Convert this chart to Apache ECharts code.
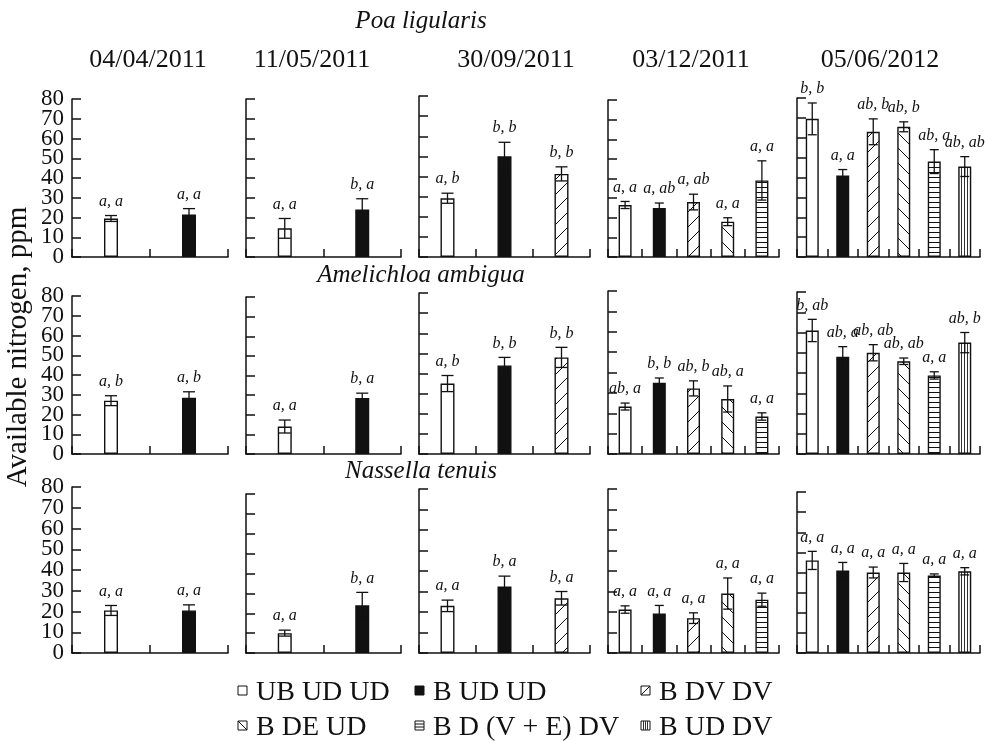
<!DOCTYPE html>
<html><head><meta charset="utf-8">
<script src="https://cdn.jsdelivr.net/npm/echarts@6/dist/echarts.min.js"></script>
<style>html,body{margin:0;padding:0;background:#fff}#c{width:985px;height:741px}</style>
</head><body><div id="c"></div>
<script>
// ---------------- DATA ----------------
const dates = ['04/04/2011', '11/05/2011', '30/09/2011', '03/12/2011', '05/06/2012'];
const species = ['Poa ligularis', 'Amelichloa ambigua', 'Nassella tenuis'];
const yAxisTitle = 'Available nitrogen, ppm';
const treatments = ['UB UD UD', 'B UD UD', 'B DV DV', 'B DE UD', 'B D (V + E) DV', 'B UD DV'];
// treatments present at each date (indices into treatments)
const panelTreatments = [[0, 1], [0, 1], [0, 1, 2], [0, 1, 2, 3, 4], [0, 1, 2, 3, 4, 5]];
const yMin = 0, yMax = 80, yStep = 10;

const poaMean = [[19.5, 21.5], [14.5, 24], [29.2, 50, 41.3], [26.5, 25, 28, 18, 39], [69.5, 41, 63, 65.5, 48, 45.5]];
const poaErr = [[1.5, 3], [5, 5.5], [2.5, 7, 3.5], [1.8, 2.5, 4, 2, 10], [8, 3, 6.5, 2.5, 6, 5]];
const poaLetters = [['a, a', 'a, a'], ['a, a', 'b, a'], ['a, b', 'b, b', 'b, b'],
  ['a, a', 'a, ab', 'a, ab', 'a, a', 'a, a'], ['b, b', 'a, a', 'ab, b', 'ab, b', 'ab, a', 'ab, ab']];

const ameMean = [[27, 28.5], [14, 28.5], [35, 44, 48], [23.3, 35, 32.2, 27, 18.4], [61, 48, 50, 45.8, 38.8, 55]];
const ameErr = [[2.5, 3], [3.3, 2.5], [4, 4, 5], [1.7, 2.3, 3.7, 6.4, 1.8], [5.5, 5, 4, 1.6, 1.8, 5]];
const ameLetters = [['a, b', 'a, b'], ['a, a', 'b, a'], ['a, b', 'b, b', 'b, b'],
  ['ab, a', 'b, b', 'ab, b', 'ab, a', 'a, a'], ['b, ab', 'ab, a', 'ab, ab', 'ab, ab', 'a, a', 'ab, b']];

const nasMean = [[20.5, 20.5], [10, 24], [23, 32.5, 26.7], [21.2, 19.3, 17, 29, 26], [46, 41, 40, 40, 38.5, 40.6]];
const nasErr = [[2.4, 2.7], [1.5, 6.5], [2.8, 5, 3.3], [1.8, 3.9, 2.6, 7.6, 3.2], [4.5, 4, 2.7, 4.5, 0.8, 1.8]];
const nasLetters = [['a, a', 'a, a'], ['a, a', 'b, a'], ['a, a', 'b, a', 'b, a'],
  ['a, a', 'a, a', 'a, a', 'a, a', 'a, a'], ['a, a', 'a, a', 'a, a', 'a, a', 'a, a', 'a, a']];

const means = [poaMean, ameMean, nasMean];
const errs = [poaErr, ameErr, nasErr];
const letters = [poaLetters, ameLetters, nasLetters];

// ---------------- STYLE / LAYOUT ----------------
const FONT = '"Liberation Serif", "Times New Roman", serif';
const INK = '#111';
const colX = [[72, 228], [246, 401], [419, 590], [608, 779], [797, 980]];
const rowTop = [[99, 99, 96, 100, 98], [296, 297, 293, 291, 292], [487, 494, 489, 489, 492]];
const rowBottom = [257, 454, 653];
const barW = [14, 14, 14, 13, 13];
const capHalf = [6, 6, 6, 4.5, 4.5];
const tickFont = { fontFamily: FONT, fontSize: 23, color: INK, margin: 8, hideOverlap: false, showMinLabel: true, showMaxLabel: true };

function tile(w, h, draw, color) {
  const c = document.createElement('canvas');
  c.width = w; c.height = h;
  const g = c.getContext('2d');
  g.fillStyle = '#fff'; g.fillRect(0, 0, w, h);
  g.strokeStyle = color || INK; g.lineWidth = 1;
  g.beginPath(); draw(g); g.stroke();
  return c;
}
const fills = [
  '#ffffff',
  INK,
  { image: tile(15, 15, g => { g.moveTo(-2, 17); g.lineTo(17, -2); g.moveTo(-2, 2); g.lineTo(2, -2); g.moveTo(13, 17); g.lineTo(17, 13); }), repeat: 'repeat' },
  { image: tile(15, 15, g => { g.moveTo(-2, -2); g.lineTo(17, 17); g.moveTo(13, -2); g.lineTo(17, 2); g.moveTo(-2, 13); g.lineTo(2, 17); }), repeat: 'repeat' },
  { image: tile(5, 5, g => { g.moveTo(0, 2.5); g.lineTo(5, 2.5); }), repeat: 'repeat' },
  { image: tile(3, 3, g => { g.moveTo(1.5, 0); g.lineTo(1.5, 3); }, '#333'), repeat: 'repeat' }
];

const grid = [], xAxis = [], yAxis = [], series = [];
for (let r = 0; r < 3; r++) {
  for (let c = 0; c < 5; c++) {
    const i = grid.length;
    const h = rowBottom[r] - rowTop[r][c];
    grid.push({ left: colX[c][0], top: rowTop[r][c], width: colX[c][1] - colX[c][0], height: h });
    xAxis.push({
      gridIndex: i, type: 'category',
      data: panelTreatments[c].map(t => treatments[t]),
      axisLine: { show: true, lineStyle: { color: INK, width: 1.5 } },
      axisTick: { show: true, inside: true, length: 8, interval: 0, lineStyle: { color: INK, width: 1.5 } },
      axisLabel: { show: false }, splitLine: { show: false }
    });
    yAxis.push({
      gridIndex: i, type: 'value', min: yMin, max: yMax, interval: yStep,
      axisLine: { show: true, lineStyle: { color: INK, width: 1.5 } },
      axisTick: { show: true, inside: true, length: 9, lineStyle: { color: INK, width: 1.5 } },
      axisLabel: Object.assign({ show: c === 0, formatter: v => (v % (2 * yStep) === 0 ? String(v) : '') }, tickFont),
      splitLine: { show: false }
    });
    const m = means[r][c], e = errs[r][c], L = letters[r][c];
    series.push({
      type: 'bar', xAxisIndex: i, yAxisIndex: i, barWidth: barW[c], silent: true,
      data: m.map((v, k) => ({ value: v, itemStyle: { color: fills[panelTreatments[c][k]], borderColor: INK, borderWidth: 1.4 } }))
    });
    const ch = capHalf[c];
    series.push({
      type: 'custom', xAxisIndex: i, yAxisIndex: i, silent: true, z: 10,
      encode: { x: 0, y: 1 },
      data: m.map((v, k) => [k, v, e[k]]),
      renderItem: (params, api) => {
        const k = api.value(0), v = api.value(1), s = api.value(2);
        const hi = api.coord([k, v + s]), lo = api.coord([k, v - s]);
        const ls = { stroke: INK, lineWidth: 1.3 };
        return {
          type: 'group', children: [
            { type: 'line', shape: { x1: hi[0], y1: hi[1], x2: lo[0], y2: lo[1] }, style: ls },
            { type: 'line', shape: { x1: hi[0] - ch, y1: hi[1], x2: hi[0] + ch, y2: hi[1] }, style: ls },
            { type: 'line', shape: { x1: lo[0] - ch, y1: lo[1], x2: lo[0] + ch, y2: lo[1] }, style: ls },
            { type: 'text', x: hi[0], y: hi[1] - 14, style: { text: L[params.dataIndex], font: 'italic 16px ' + FONT, fill: INK, align: 'center', verticalAlign: 'middle' } }
          ]
        };
      }
    });
    if (c === 0) {
      // companion label-only axis for the odd tick labels (10, 30, 50, 70), same scale
      const j = grid.length;
      const pxPer = h / (yMax - yMin);
      const lo = yMin + yStep, hi = yMax - yStep;
      grid.push({ left: colX[c][0], top: rowTop[r][c] + (yMax - hi) * pxPer, width: colX[c][1] - colX[c][0], height: (hi - lo) * pxPer });
      xAxis.push({ gridIndex: j, type: 'value', show: false, min: 0, max: 1 });
      yAxis.push({
        gridIndex: j, type: 'value', min: lo, max: hi, interval: 2 * yStep,
        axisLine: { show: false }, axisTick: { show: false }, splitLine: { show: false },
        axisLabel: Object.assign({ show: true }, tickFont)
      });
    }
  }
}

// ---------------- TEXT & LEGEND ----------------
const graphic = [];
const speciesY = [21, 275, 471.5];
species.forEach((s, r) => graphic.push({ type: 'text', x: 421, y: speciesY[r], style: { text: s, font: 'italic 25px ' + FONT, fill: INK, align: 'center', verticalAlign: 'middle' } }));
const dateX = [148, 312, 516, 691, 880];
dates.forEach((d, c) => graphic.push({ type: 'text', x: dateX[c], y: 60, style: { text: d, font: '26px ' + FONT, fill: INK, align: 'center', verticalAlign: 'middle' } }));
graphic.push({ type: 'text', x: 18, y: 347, rotation: Math.PI / 2, style: { text: yAxisTitle, font: '29px ' + FONT, fill: INK, align: 'center', verticalAlign: 'middle' } });

const legPos = [[238, 692.5], [415, 692.5], [641, 692.5], [238, 727.5], [415, 727.5], [641, 727.5]];
const legOrder = [0, 1, 2, 3, 4, 5];
legOrder.forEach((t, j) => {
  const [x, y] = legPos[j];
  const s = 9, top = y - 2;
  const kids = [{ type: 'rect', shape: { x: 0, y: 0, width: s, height: s }, style: { fill: t === 1 ? INK : '#fff', stroke: INK, lineWidth: 1 } }];
  const ls = { stroke: INK, lineWidth: 1 };
  if (t === 2) kids.push({ type: 'line', shape: { x1: 0, y1: s, x2: s, y2: 0 }, style: ls });
  if (t === 3) kids.push({ type: 'line', shape: { x1: 0, y1: 0, x2: s, y2: s }, style: ls });
  if (t === 4) [3, 6].forEach(yy => kids.push({ type: 'line', shape: { x1: 0, y1: yy, x2: s, y2: yy }, style: ls }));
  if (t === 5) [2.5, 4.5, 6.5].forEach(xx => kids.push({ type: 'line', shape: { x1: xx, y1: 0, x2: xx, y2: s }, style: { stroke: '#333', lineWidth: 1 } }));
  graphic.push({ type: 'group', x: x, y: top - s / 2, children: kids });
  graphic.push({ type: 'text', x: x + 18, y: y, style: { text: treatments[t], font: '28px ' + FONT, fill: INK, align: 'left', verticalAlign: 'middle' } });
});

const chart = echarts.init(document.getElementById('c'), null, { renderer: 'canvas' });
chart.setOption({
  backgroundColor: '#fff', animation: false,
  grid, xAxis, yAxis, series, graphic
});
</script></body></html>
